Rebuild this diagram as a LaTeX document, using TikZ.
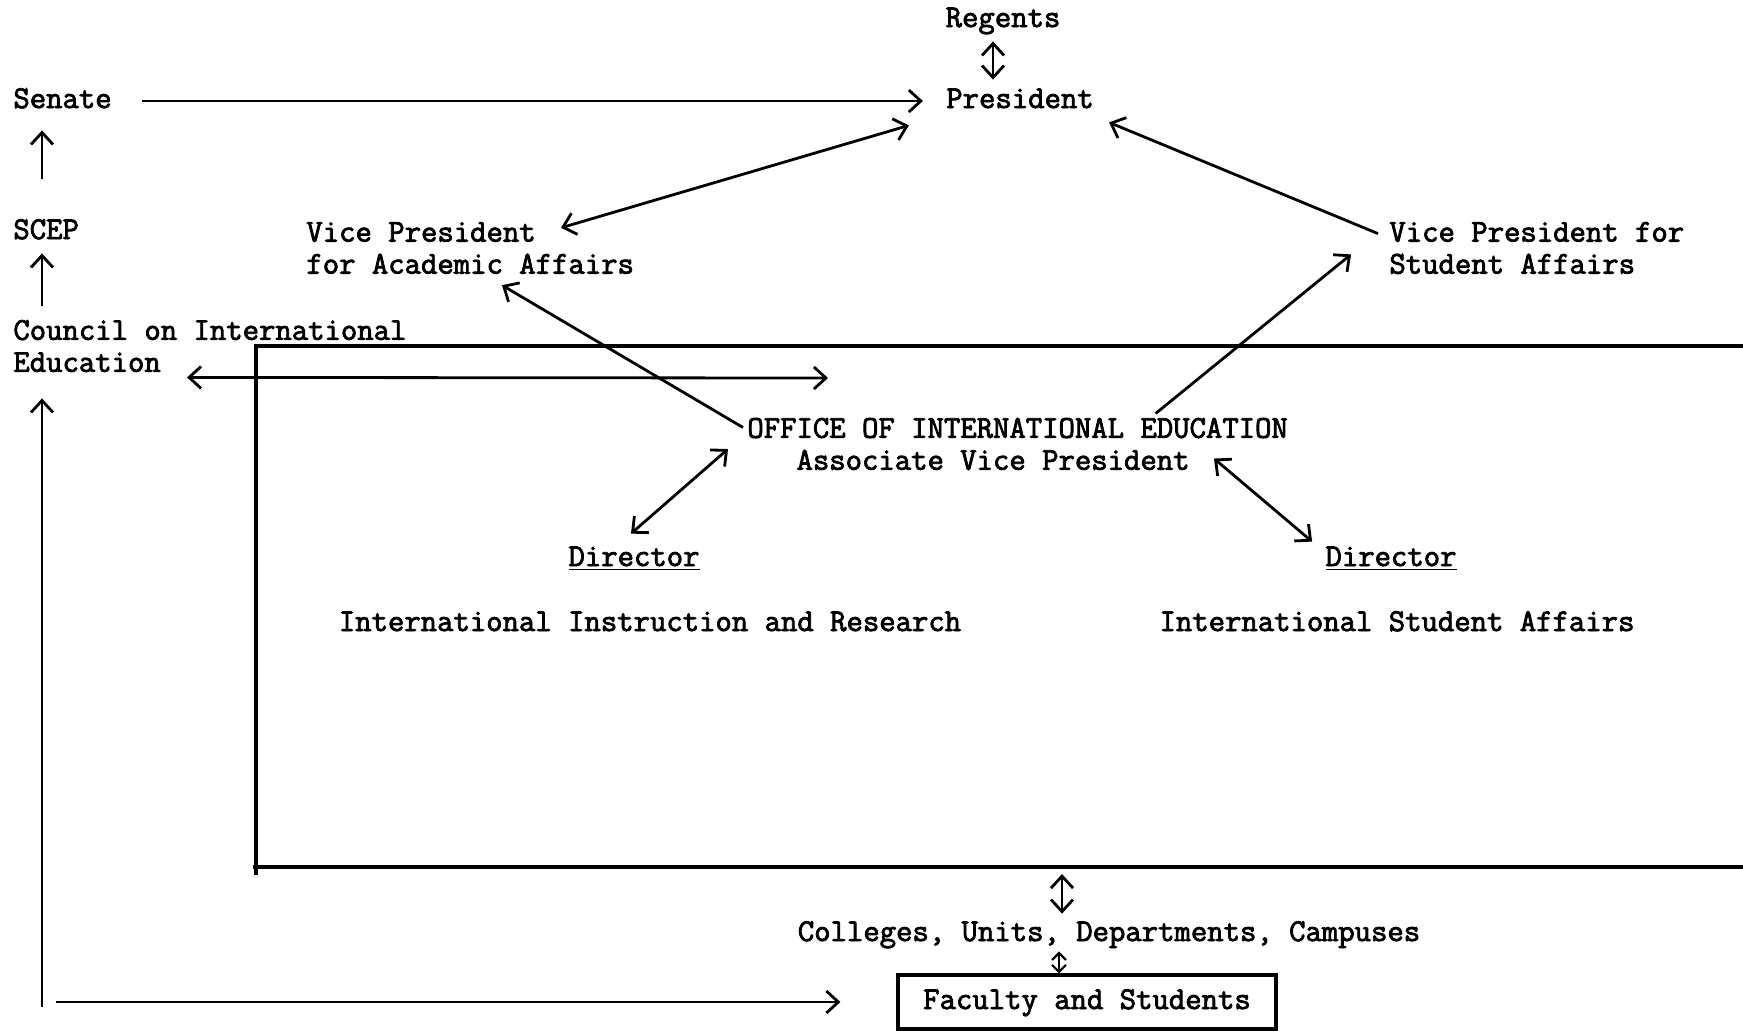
\documentclass[tikz,border=0pt]{standalone}
\usepackage{fontspec}
\setmonofont{Latin Modern Mono}[BoldFont={Latin Modern Mono}, BoldFeatures={FakeBold=2.5}]
\usetikzlibrary{arrows.meta}
\tikzstyle{orgunit}=[font={\fontsize{15.9}{16}\selectfont\ttfamily\bfseries}, inner sep=2pt, text height=10pt, text depth=3pt]
\tikzstyle{orgblock}=[font={\fontsize{15.9}{16}\selectfont\ttfamily\bfseries}, inner sep=2pt, align=left]
\tikzstyle{link} = [draw, line width=1.4pt, ->]
\tikzstyle{twoway} = [draw, line width=1.4pt, <->]
\tikzstyle{smallway} = [draw, line width=1.1pt, >={Straight Barb[length=3.5pt,width=7pt]}, <->]
\tikzstyle{frame} = [draw, line width=1.6pt]

\begin{document}
\begin{tikzpicture}[x=0.5pt, y=-0.5pt, >={Straight Barb[length=6pt,width=11pt]}]
    \useasboundingbox (0,0) rectangle (1743,1030);

    \foreach \pos/\name/\txt in {{(1003,20)/regents/Regents}, {(1020,101)/president/President}, {(634,559)/dirl/\underline{Director}}, {(1391,559)/dirr/\underline{Director}}, {(650,624)/iir/International Instruction and Research}, {(1397,624)/isa/International Student Affairs}, {(1109,934)/colleges/{Colleges, Units, Departments, Campuses}}}
        \node[orgunit] (\name) at \pos {\txt};

    \node[orgunit, anchor=west] (senate) at (9,101) {Senate};
    \node[orgunit, anchor=west] (scep) at (9,232) {SCEP};
    \node[orgblock, anchor=west] (council) at (9,346) {Council on International\\Education};
    \node[orgblock, anchor=west] (vpaa) at (302,248) {Vice President\\for Academic Affairs};
    \node[orgblock, anchor=west] (vpsa) at (1385,248) {Vice President for\\Student Affairs};
    \node[orgblock, anchor=west] (office) at (743,444) {OFFICE OF INTERNATIONAL EDUCATION\\\phantom{OFF}Associate Vice President};
    \node[orgunit, draw, line width=1.6pt, minimum width=189pt, minimum height=27pt] (faculty) at (1087,1002) {Faculty and Students};

    % open frame round the office
    \draw[frame] (1750,346) -- (256,346) -- (256,875);
    \draw[frame] (253,867) -- (1750,867);
    \coordinate (boxfoot) at (1062,867);
    \coordinate (spine) at (42,0);
    \coordinate (corner) at (42,1007);
    \coordinate (cieout) at (828,378);

    % top of the chart
    \draw[twoway, shorten <=2pt, shorten >=2pt] ([xshift=-5pt]regents.south) -- ([xshift=-13.5pt]president.north);
    \draw[link, shorten <=13pt, shorten >=9.5pt] (senate.east) -- (president.west);
    \draw[link, shorten <=18pt, shorten >=6pt] (scep.north -| spine) -- (senate.south -| spine);
    \draw[link, shorten <=5pt, shorten >=2pt] (council.north -| spine) -- (scep.south -| spine);
    \draw[link, shorten >=11pt] (corner) -- (council.south -| spine);
    \draw[link, shorten <=7pt, shorten >=28pt] (corner |- faculty.west) -- (faculty.west);
    \draw[twoway] ([xshift=89pt,yshift=-0.5pt]council.south west) -- (cieout);
    \draw[twoway] ([xshift=129.5pt,yshift=-5pt]vpaa.north west) -- ([xshift=-16.5pt,yshift=-3.5pt]president.south west);
    \draw[link] ([xshift=-3.5pt,yshift=-8pt]vpsa.north west) -- ([xshift=5.5pt,yshift=-2pt]president.south east);

    % office links
    \draw[link] ([yshift=-7pt]office.north west) -- ([xshift=100pt,yshift=-3.5pt]vpaa.south west);
    \draw[link] ([xshift=69pt]office.north) -- ([xshift=-17pt,yshift=12pt]vpsa.south west);
    \draw[twoway] ([xshift=-7.5pt,yshift=-2.5pt]office.west) -- ([xshift=-1.5pt,yshift=4pt]dirl.north);
    \draw[twoway] ([xshift=235.5pt,yshift=8pt]office.south west) -- ([xshift=-4.5pt]dirr.north west);

    % down to the faculty
    \draw[twoway, shorten <=3.5pt, shorten >=1.5pt] (boxfoot) -- (boxfoot |- colleges.north);
    \draw[smallway] ([xshift=-25pt]colleges.south) -- ([xshift=-25pt]colleges.south |- faculty.north);

\end{tikzpicture}
\end{document}
